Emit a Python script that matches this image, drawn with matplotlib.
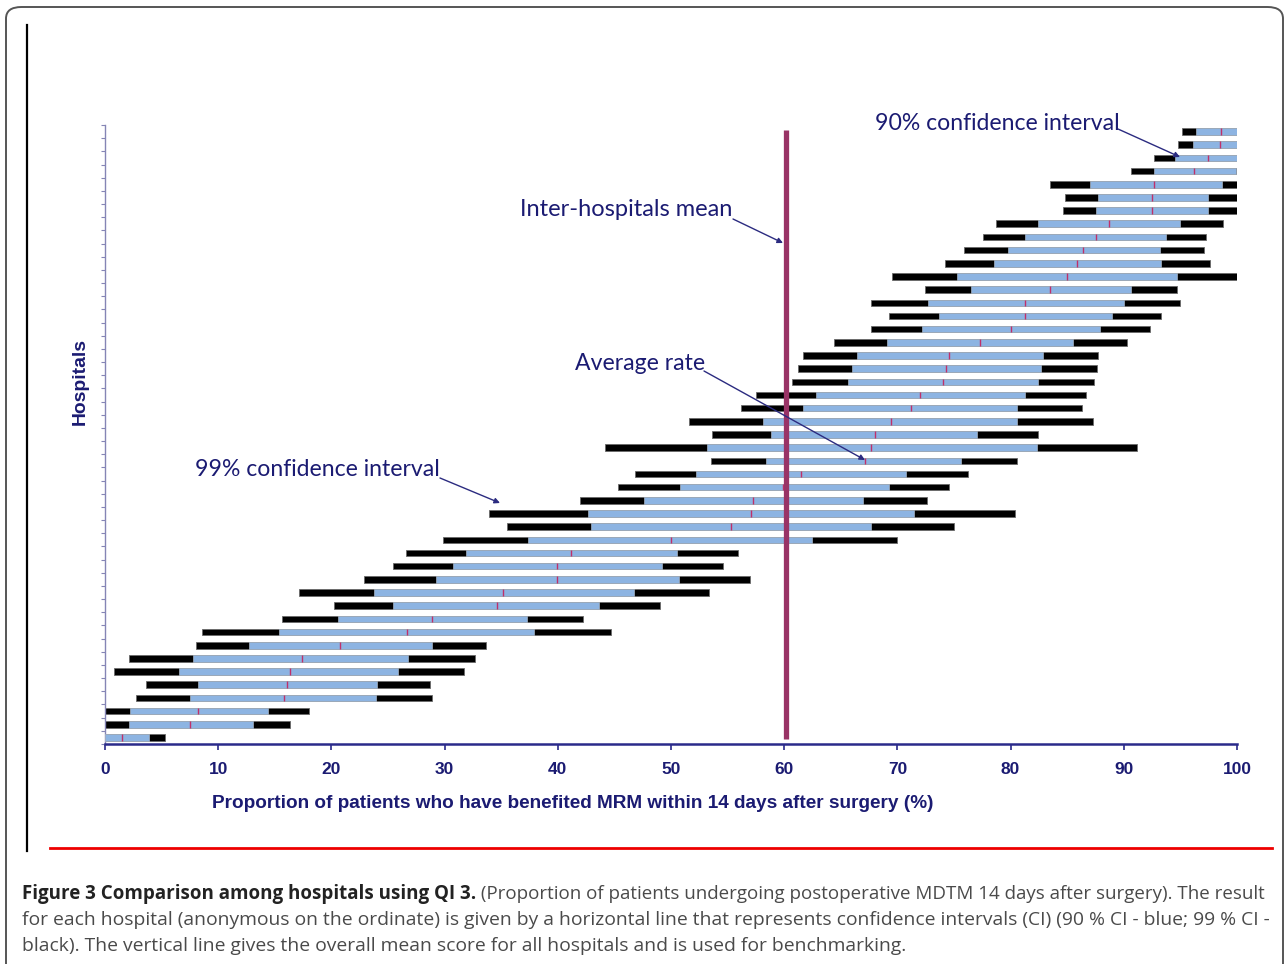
import matplotlib
matplotlib.use("Agg")
import matplotlib.pyplot as plt
from matplotlib.patches import FancyBboxPatch
from matplotlib.lines import Line2D
import numpy as np

# ---------------- data (hospitals listed from top to bottom) ----------------
lo99 = [95.1, 94.8, 92.7, 90.6, 83.5, 84.8, 84.6, 78.7, 77.6, 75.9, 74.2, 69.5, 72.4, 67.7, 69.3, 67.7,
        64.4, 61.7, 61.2, 60.7, 57.5, 56.2, 51.6, 53.6, 44.2, 53.5, 46.8, 45.3, 42.0, 33.9, 35.5, 29.9,
        26.6, 25.4, 22.9, 17.1, 20.2, 15.6, 8.6, 8.0, 2.1, 0.8, 3.6, 2.7, 0.0, 0.0, 0.0]
lo90 = [96.4, 96.1, 94.5, 92.7, 87.0, 87.7, 87.5, 82.4, 81.3, 79.8, 78.5, 75.3, 76.5, 72.7, 73.7, 72.2,
        69.1, 66.4, 66.0, 65.6, 62.8, 61.7, 58.1, 58.8, 53.2, 58.4, 52.2, 50.8, 47.6, 42.7, 42.9, 37.4,
        31.9, 30.7, 29.2, 23.8, 25.4, 20.6, 15.4, 12.7, 7.8, 6.5, 8.2, 7.5, 2.2, 2.1, 0.0]
rate = [98.6, 98.5, 97.4, 96.2, 92.7, 92.5, 92.5, 88.7, 87.5, 86.4, 85.9, 85.0, 83.5, 81.3, 81.3, 80.0,
        77.3, 74.6, 74.3, 74.0, 72.0, 71.2, 69.4, 68.0, 67.7, 67.1, 61.5, 59.9, 57.2, 57.1, 55.3, 50.0,
        41.2, 39.9, 39.9, 35.2, 34.6, 28.9, 26.7, 20.8, 17.4, 16.3, 16.1, 15.8, 8.2, 7.5, 1.5]
hi90 = [100, 100, 100, 99.9, 98.7, 97.4, 97.4, 95.0, 93.7, 93.2, 93.3, 94.7, 90.6, 90.0, 89.0, 87.9,
        85.5, 82.9, 82.7, 82.4, 81.3, 80.6, 80.6, 77.0, 82.3, 75.6, 70.8, 69.3, 67.0, 71.5, 67.7, 62.5,
        50.5, 49.2, 50.7, 46.7, 43.6, 37.3, 37.9, 28.9, 26.8, 25.9, 24.0, 23.9, 14.4, 13.1, 3.9]
hi99 = [100, 100, 100, 100, 100, 100, 100, 98.8, 97.3, 97.1, 97.6, 100, 94.7, 95.0, 93.3, 92.3,
        90.3, 87.7, 87.6, 87.4, 86.7, 86.3, 87.3, 82.4, 91.2, 80.6, 76.2, 74.6, 72.6, 80.4, 75.0, 70.0,
        55.9, 54.6, 57.0, 53.4, 49.0, 42.2, 44.7, 33.7, 32.7, 31.7, 28.7, 28.9, 18.0, 16.3, 5.3]
overall_mean = 60.2
xticks = [0, 10, 20, 30, 40, 50, 60, 70, 80, 90, 100]

xlabel = "Proportion of patients who have benefited MRM within 14 days after surgery (%)"
ylabel = "Hospitals"
ann_90 = "90% confidence interval"
ann_mean = "Inter-hospitals mean"
ann_rate = "Average rate"
ann_99 = "99% confidence interval"
cap_bold = "Figure 3 Comparison among hospitals using QI 3."
cap_1 = " (Proportion of patients undergoing postoperative MDTM 14 days after surgery). The result"
cap_2 = ("for each hospital (anonymous on the ordinate) is given by a horizontal line that represents "
         "confidence intervals (CI) (90 % CI - blue; 99 % CI -")
cap_3 = "black). The vertical line gives the overall mean score for all hospitals and is used for benchmarking."

# ---------------- figure ----------------
W, H = 1287, 964
fig = plt.figure(figsize=(W / 100, H / 100), dpi=100)
fig.patch.set_facecolor("white")

def fx(px):
    return px / W

def fy(py):
    return 1 - py / H

navy = "#1b1b72"
ax = fig.add_axes([fx(105), fy(744), (1237 - 105) / W, (744 - 125) / H])

n = len(rate)
ypos = np.arange(n)[::-1]  # top hospital gets the highest position
bh = 0.5
lo99a, lo90a, ratea, hi90a, hi99a = map(np.array, (lo99, lo90, rate, hi90, hi99))

ax.barh(ypos, hi99a - lo99a, left=lo99a, height=bh, color="#000000",
        edgecolor="#6a6a6a", linewidth=0.6, zorder=2)
ax.barh(ypos, hi90a - lo90a, left=lo90a, height=bh, color="#8db4e2",
        edgecolor="#a9b4c2", linewidth=0.5, zorder=3)
ax.vlines(ratea, ypos - bh / 2, ypos + bh / 2, color="#c0306a", linewidth=1.0, zorder=4)

ax.vlines(overall_mean, -0.15, n - 0.85, color="#993366", linewidth=3.8, zorder=5)

ax.set_xlim(0, 100)
ax.set_ylim(-0.5, n - 0.5)
ax.set_xticks(xticks)
ax.set_xticklabels([str(t) for t in xticks], fontfamily="Liberation Sans",
                   fontweight="bold", fontsize=12.5, color=navy)
ax.set_yticks(np.arange(-0.5, n, 1.0))
ax.set_yticklabels([])
for s in ("top", "right"):
    ax.spines[s].set_visible(False)
ax.spines["left"].set_color("#8585b5")
ax.spines["left"].set_linewidth(1.0)
ax.spines["bottom"].set_color("#2a2a8a")
ax.spines["bottom"].set_linewidth(1.8)
ax.tick_params(axis="x", direction="out", length=4, width=1.2, color="#2a2a8a", pad=9)
ax.tick_params(axis="y", direction="out", length=3, width=0.8, color="#8585b5")

renderer = fig.canvas.get_renderer()

def fit_width(t, target, vertical=False):
    bb = t.get_window_extent(renderer)
    w = bb.height if vertical else bb.width
    t.set_fontsize(t.get_fontsize() * target / w)
    return t

# axis labels
t = fig.text(fx(573), fy(804), xlabel, ha="center", va="center", color=navy,
             fontfamily="Liberation Sans", fontweight="bold", fontsize=13)
fit_width(t, 720)
t = fig.text(fx(80), fy(382), ylabel, ha="center", va="center", rotation=90, color=navy,
             fontfamily="Liberation Sans", fontweight="bold", fontsize=13)
fit_width(t, 87, vertical=True)

# annotations (text in figure pixels, arrow tips on the data)
def label(txt, left, cy, width):
    t = fig.text(fx(left), fy(cy), txt, ha="left", va="center", color=navy,
                 fontfamily="Lato", fontsize=15)
    fit_width(t, width)

label(ann_90, 875, 124, 245)
label(ann_mean, 520, 210, 213)
label(ann_rate, 575, 364, 130)
label(ann_99, 195, 469, 245)

def to_data(px, py):
    inv = ax.transData.inverted()
    return inv.transform((px, H - py))

def arrow(p0, p1):
    a = to_data(*p0)
    b = to_data(*p1)
    ax.annotate("", xy=b, xytext=a, xycoords="data", textcoords="data",
                arrowprops=dict(arrowstyle="-|>", color="#2b2b80", lw=1.0,
                                mutation_scale=8, shrinkA=0, shrinkB=0),
                annotation_clip=False, zorder=6)

arrow((1118, 129), (1180, 157))
arrow((733, 219), (783, 243))
arrow((704, 371), (865, 460))
arrow((440, 478), (500, 503))

# frame decorations
frame = FancyBboxPatch((fx(6), fy(1000)), fx(1283) - fx(6), fy(7) - fy(1000),
                       boxstyle="round,pad=0,rounding_size=0.012", transform=fig.transFigure,
                       facecolor="none", edgecolor="#555555", linewidth=1.4, clip_on=False)
fig.patches.append(frame)
fig.add_artist(Line2D([fx(27), fx(27)], [fy(25), fy(851)], color="black", linewidth=1.6))
fig.add_artist(Line2D([fx(50), fx(1272)], [fy(848), fy(848)], color="#ee0000", linewidth=2.0))

# caption
cap_font = "Open Sans"
gray = "#4a4a4a"
t2 = fig.text(fx(22), fy(920), cap_2, ha="left", va="center", color=gray,
              fontfamily=cap_font, fontsize=12)
fit_width(t2, 1238)
fs2 = t2.get_fontsize()

# first line: bold lead + regular remainder, fitted together to the same width
fs1 = 12.0
tb = fig.text(fx(22), fy(894), cap_bold, ha="left", va="center", color="#222222",
              fontfamily=cap_font, fontweight="bold", fontsize=fs1)
tr = fig.text(fx(22), fy(894), cap_1, ha="left", va="center", color=gray,
              fontfamily=cap_font, fontsize=fs1)
wtot = tb.get_window_extent(renderer).width + tr.get_window_extent(renderer).width
fs1 = fs1 * 1238 / wtot
tb.set_fontsize(fs1)
tr.set_fontsize(fs1)
bbx = tb.get_window_extent(renderer)
tr.set_x(bbx.x1 / W)

fig.text(fx(22), fy(946), cap_3, ha="left", va="center", color=gray,
         fontfamily=cap_font, fontsize=fs2)

fig.savefig("out.png", dpi=100)
